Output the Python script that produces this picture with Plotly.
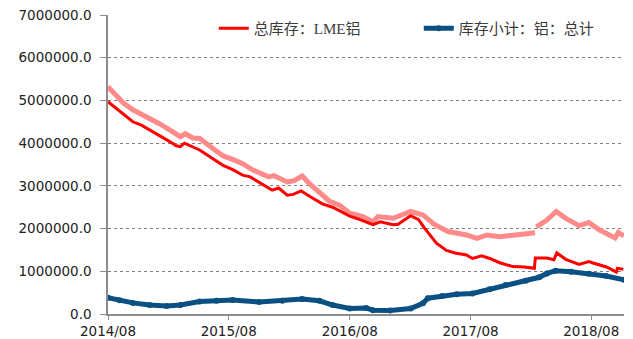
import plotly.graph_objects as go

# 总库存:LME铝 (tonnes)
lme_dates = [
    "2014-08-01", "2014-08-20", "2014-09-15", "2014-10-15", "2014-11-10", "2014-12-05",
    "2015-01-05", "2015-02-05", "2015-02-23", "2015-03-08", "2015-03-20", "2015-04-10",
    "2015-05-05", "2015-06-13", "2015-07-15", "2015-08-13", "2015-09-12", "2015-10-05",
    "2015-11-10", "2015-12-10", "2015-12-30", "2016-01-25", "2016-02-12", "2016-03-07",
    "2016-04-05", "2016-05-10", "2016-06-10", "2016-07-10", "2016-08-01", "2016-09-01",
    "2016-10-10", "2016-11-01", "2016-12-10", "2016-12-25", "2017-02-01", "2017-02-25",
    "2017-03-15", "2017-04-20", "2017-05-20", "2017-06-15", "2017-07-20", "2017-08-07",
    "2017-09-04", "2017-09-28", "2017-10-28", "2017-12-07", "2018-01-10", "2018-02-10",
    "2018-02-13", "2018-03-20", "2018-04-10", "2018-04-19", "2018-05-16", "2018-06-25",
    "2018-07-25", "2018-08-04", "2018-09-16", "2018-10-16", "2018-10-19", "2018-11-06",
]
lme_values = [
    4970000, 4850000, 4700000, 4500000, 4420000, 4310000,
    4180000, 4030000, 3940000, 3920000, 4000000, 3920000,
    3840000, 3640000, 3480000, 3380000, 3250000, 3210000,
    3050000, 2900000, 2950000, 2780000, 2800000, 2880000,
    2740000, 2580000, 2500000, 2380000, 2290000, 2210000,
    2090000, 2160000, 2090000, 2100000, 2300000, 2210000,
    2010000, 1660000, 1490000, 1430000, 1380000, 1300000,
    1360000, 1300000, 1200000, 1110000, 1100000, 1070000,
    1310000, 1310000, 1270000, 1430000, 1280000, 1160000,
    1230000, 1200000, 1100000, 980000, 1070000, 1050000,
]

# 总库存合计 (tonnes), gap where the two source series misalign
total_dates = [
    "2014-08-01", "2014-08-20", "2014-09-15", "2014-10-15", "2014-11-10", "2014-12-05",
    "2015-01-05", "2015-02-01", "2015-03-08", "2015-03-23", "2015-04-15", "2015-05-05",
    "2015-06-15", "2015-07-15", "2015-08-13", "2015-09-12", "2015-10-13", "2015-11-30",
    "2015-12-15", "2016-01-25", "2016-02-15", "2016-03-10", "2016-04-05", "2016-05-10",
    "2016-06-01", "2016-07-01", "2016-08-01", "2016-09-10", "2016-10-10", "2016-10-25",
    "2016-12-10", "2017-02-01", "2017-03-10", "2017-04-15", "2017-05-25", "2017-07-20",
    "2017-08-20", "2017-09-20", "2017-10-28", "2017-12-15", "2018-02-12", "2018-02-14",
    "2018-02-16", "2018-03-20", "2018-04-17", "2018-05-16", "2018-06-25", "2018-07-25",
    "2018-08-25", "2018-10-12", "2018-10-22", "2018-11-08",
]
total_values = [
    5320000, 5150000, 4950000, 4780000, 4680000, 4590000,
    4450000, 4320000, 4150000, 4220000, 4120000, 4110000,
    3870000, 3700000, 3620000, 3520000, 3370000, 3210000,
    3240000, 3090000, 3120000, 3230000, 3020000, 2800000,
    2640000, 2550000, 2360000, 2280000, 2160000, 2280000,
    2240000, 2400000, 2320000, 2090000, 1930000, 1850000,
    1770000, 1850000, 1810000, 1850000, 1900000, None,
    2040000, 2200000, 2400000, 2240000, 2070000, 2140000,
    1970000, 1780000, 1910000, 1830000,
]

# 库存小计:铝:总计 (tonnes)
shfe_dates = [
    "2014-08-01", "2014-09-05", "2014-10-15", "2014-12-05", "2015-01-25", "2015-03-08",
    "2015-05-05", "2015-06-25", "2015-08-13", "2015-11-01", "2016-01-10", "2016-03-10",
    "2016-05-01", "2016-06-10", "2016-08-01", "2016-09-20", "2016-10-10", "2016-12-01",
    "2017-02-01", "2017-03-10", "2017-03-25", "2017-05-07", "2017-06-20", "2017-08-07",
    "2017-09-28", "2017-11-15", "2018-01-15", "2018-02-25", "2018-03-20", "2018-04-15",
    "2018-06-01", "2018-07-25", "2018-09-15", "2018-11-08",
]
shfe_values = [
    380000, 320000, 260000, 210000, 190000, 210000,
    290000, 310000, 330000, 280000, 310000, 350000,
    310000, 210000, 130000, 140000, 90000, 80000,
    130000, 250000, 370000, 420000, 460000, 480000,
    580000, 680000, 780000, 860000, 950000, 1010000,
    990000, 940000, 890000, 800000,
]

label_font = dict(family="Liberation Serif, Noto Sans CJK SC, serif", size=15, color="#3A3A3A")
tick_font = dict(family="DejaVu Sans, sans-serif", size=13.5, color="#222222")

fig = go.Figure()

fig.add_trace(go.Scatter(
    x=total_dates, y=total_values, mode="lines", name="总库存合计",
    line=dict(color="#FF8A8A", width=5), connectgaps=False, showlegend=False,
))
fig.add_trace(go.Scatter(
    x=lme_dates, y=lme_values, mode="lines", name="总库存：LME铝",
    line=dict(color="#FF0000", width=3),
))
fig.add_trace(go.Scatter(
    x=shfe_dates, y=shfe_values, mode="lines+markers", name="库存小计：铝：总计",
    line=dict(color="#0B5083", width=5),
    marker=dict(color="#0B5083", size=6),
))

fig.update_layout(
    width=633, height=339,
    margin=dict(l=108, r=9, t=15, b=25),
    paper_bgcolor="white", plot_bgcolor="white",
    legend=dict(
        orientation="h", x=0.205, y=1.01, xanchor="left", yanchor="top",
        font=label_font, entrywidth=160, bgcolor="rgba(0,0,0,0)",
    ),
)

fig.update_xaxes(
    type="date", range=["2014-08-01", "2018-11-08"],
    tick0="2014-08-01", dtick="M12", tickformat="%Y/%m",
    showgrid=False, showline=True, linecolor="#8C8C8C", linewidth=1.5,
    ticks="outside", ticklen=4, tickcolor="#8C8C8C", tickfont=tick_font,
    ticklabelstandoff=0, zeroline=False, automargin=False,
)
fig.update_yaxes(
    range=[0, 7000000], tick0=0, dtick=1000000, tickformat=".1f",
    showgrid=True, gridcolor="#7F7F7F", griddash="dot", gridwidth=1,
    showline=True, linecolor="#8C8C8C", linewidth=1.5,
    ticks="outside", ticklen=6, tickcolor="#8C8C8C", tickfont=tick_font,
    ticklabelstandoff=6, zeroline=False, automargin=False,
)

fig.write_html("out.html")
